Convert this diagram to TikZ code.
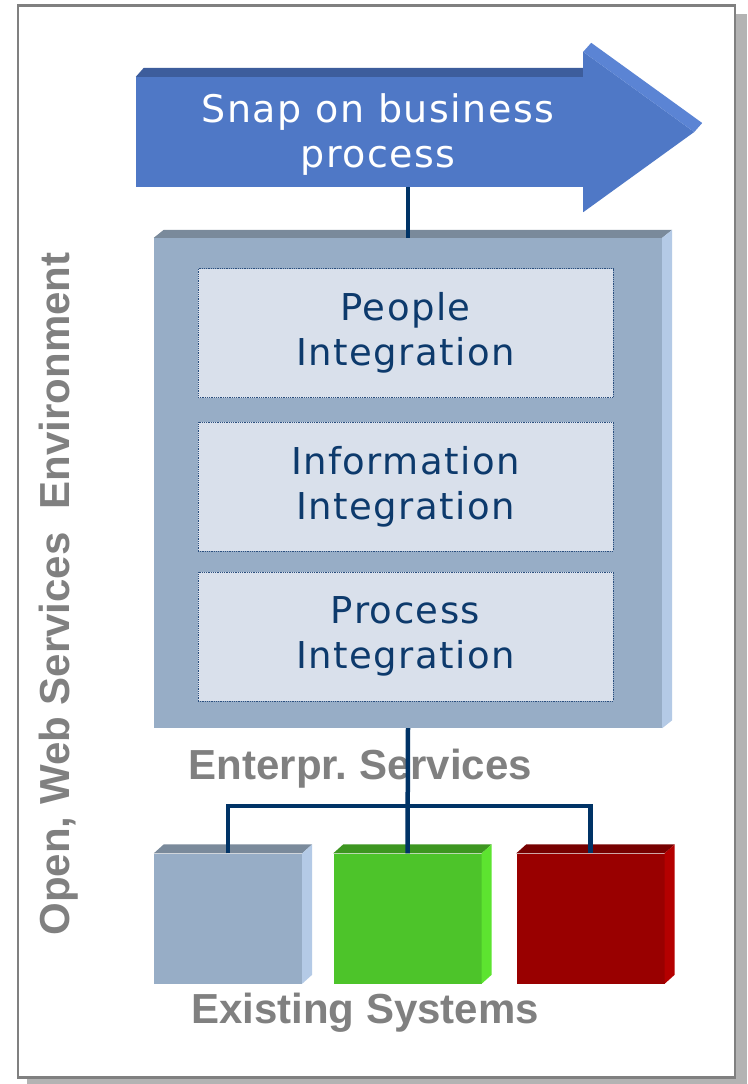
\documentclass[tikz,border=0pt]{standalone}
\usepackage{fontspec}
\setmainfont{DejaVu Sans}
\newfontfamily\spacedfont{DejaVu Sans}[LetterSpace=4]
\newfontfamily\capfont{Liberation Sans}
\usetikzlibrary{calc}

\definecolor{framegray}{HTML}{808080}
\definecolor{shadowgray}{HTML}{B3B3B3}
\definecolor{arrowfront}{HTML}{4F78C6}
\definecolor{arrowtop}{HTML}{3D5D9C}
\definecolor{arrowlight}{HTML}{5B84D4}
\definecolor{panelfront}{HTML}{97ADC6}
\definecolor{paneltop}{HTML}{7A8A9B}
\definecolor{panelside}{HTML}{B4CAE6}
\definecolor{layerfill}{HTML}{D9E0EB}
\definecolor{layerline}{HTML}{2B4F7E}
\definecolor{layertext}{HTML}{0D3A6C}
\definecolor{linknavy}{HTML}{003366}
\definecolor{captiongray}{HTML}{808080}
\definecolor{greenfront}{HTML}{4DC42A}
\definecolor{greentop}{HTML}{3D9620}
\definecolor{greenside}{HTML}{5DE430}
\definecolor{redfront}{HTML}{990000}
\definecolor{redtop}{HTML}{770000}
\definecolor{redside}{HTML}{B40000}

\tikzset{
  layer/.style={
    % The shape:
    rectangle,
    % The size:
    minimum width=415, minimum height=129,
    % The border:
    draw=layerline, densely dotted, line width=0.8,
    % The filling:
    fill=layerfill,
    % Font
    text=layertext, align=center,
    font=\spacedfont\fontsize{37}{45}\selectfont,
  },
  system/.style={
    % The shape:
    rectangle, inner sep=0,
    % The size:
    minimum width=148, minimum height=130,
  },
  caption/.style={
    text=captiongray, inner sep=0,
    font=\capfont\bfseries\fontsize{42}{48}\selectfont,
  },
  link/.style={
    draw=linknavy, line width=4.5,
  }
}

\begin{document}
\begin{tikzpicture}[x=1pt, y=-1pt]

  \useasboundingbox (0, 0) rectangle (747, 1084);

  % frame with its shadow
  \fill[shadowgray] (27, 14) rectangle (747, 1084);
  \draw[framegray, line width=2.5, fill=white] (18, 5.5) rectangle (735, 1077.5);

  % the arrow on top
  \node (snap) [rectangle, fill=arrowfront, minimum width=447, minimum height=110] at (359.5, 132) {};
  \fill[arrowtop] (snap.north west) -- ++(8, -9) -- ($(snap.north east) + (0, -9)$) -- (snap.north east) -- cycle;
  \fill[arrowfront] ($(snap.north east) + (0, -25)$) -- ($(snap.east) + (111, 0)$) -- ($(snap.south east) + (0, 25)$) -- cycle;
  \fill[arrowlight] ($(snap.north east) + (0, -25)$) -- ++(8, -9) -- ($(snap.east) + (119, -9)$) -- ($(snap.east) + (111, 0)$) -- cycle;
  \node (snap text) [text=white, align=center, font=\spacedfont\fontsize{38}{45}\selectfont] at (378, 135) {Snap on business\\process};

  % enterprise services panel
  \node (es) [rectangle, fill=panelfront, minimum width=508, minimum height=490] at (408, 483) {};
  \fill[paneltop] (es.north west) -- ++(10, -8) -- ($(es.north east) + (10, -8)$) -- (es.north east) -- cycle;
  \fill[panelside] (es.north east) -- ++(10, -8) -- ($(es.south east) + (10, -8)$) -- (es.south east) -- cycle;

  \node (people) [layer] at (405.5, 333) {People\\Integration};
  \node (info) [layer] at (405.5, 486.5) {Information\\Integration};
  \node (process) [layer] at (405.5, 636.5) {Process\\Integration};

  \node (es caption) [caption, anchor=base] at (360.5, 779) {Enterpr.\ Services};

  % existing systems
  \node (sys1) [system, fill=panelfront] at (228, 918.5) {};
  \fill[paneltop] (sys1.north west) -- ++(10, -9) -- ($(sys1.north east) + (10, -9)$) -- (sys1.north east) -- cycle;
  \fill[panelside] (sys1.north east) -- ++(10, -9) -- ($(sys1.south east) + (10, -9)$) -- (sys1.south east) -- cycle;

  \node (sys2) [system, fill=greenfront] at (407.5, 918.5) {};
  \fill[greentop] (sys2.north west) -- ++(10, -9) -- ($(sys2.north east) + (10, -9)$) -- (sys2.north east) -- cycle;
  \fill[greenside] (sys2.north east) -- ++(10, -9) -- ($(sys2.south east) + (10, -9)$) -- (sys2.south east) -- cycle;

  \node (sys3) [system, fill=redfront] at (590.5, 918.5) {};
  \fill[redtop] (sys3.north west) -- ++(10, -9) -- ($(sys3.north east) + (10, -9)$) -- (sys3.north east) -- cycle;
  \fill[redside] (sys3.north east) -- ++(10, -9) -- ($(sys3.south east) + (10, -9)$) -- (sys3.south east) -- cycle;

  \node (sys caption) [caption, anchor=base] at (365, 1023) {Existing Systems};

  \node (env) [caption, rotate=90, anchor=base] at (69, 594) {Open, Web Services~~Environment};

  % connectors
  \draw[link] (snap.south -| es.north) -- (es.north);
  \coordinate (bus) at (408, 806);
  \draw[link] (es.south) -- (sys2.north);
  \draw[link] (sys1.north) -- (sys1.north |- bus) -- (sys3.north |- bus) -- (sys3.north);

\end{tikzpicture}
\end{document}
